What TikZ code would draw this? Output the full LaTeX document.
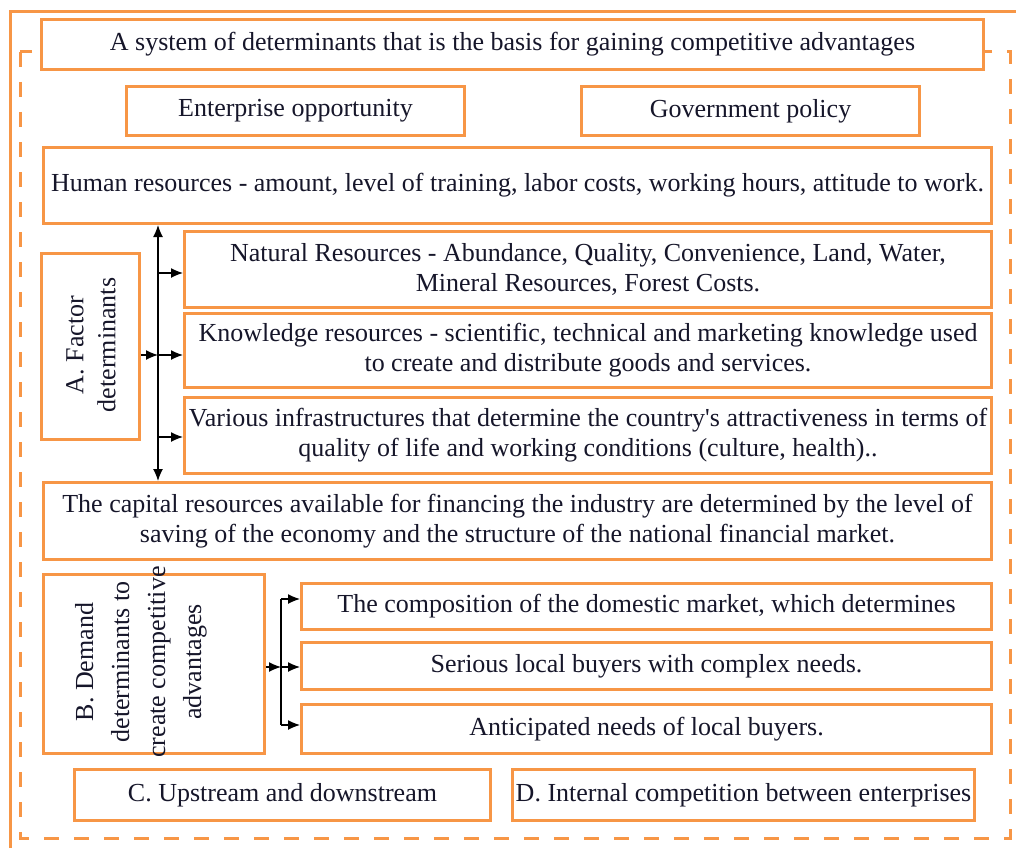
\documentclass[tikz,border=0pt]{standalone}
\usepackage{fontspec}
\setmainfont{Liberation Serif}
\usetikzlibrary{arrows.meta}
\definecolor{org}{RGB}{247,150,70}
\definecolor{txt}{RGB}{22,22,42}
\begin{document}
\begin{tikzpicture}[x=1pt,y=-1pt,
  box/.style={draw=org, line width=3pt, fill=white, inner sep=0pt, text=txt,
    font=\fontsize{26}{30}\selectfont, align=center, anchor=north west,
    execute at begin node={\vspace*{6pt}}},
  vtext/.style={text=txt, align=center, rotate=90, inner sep=0pt},
  arr/.style={-{Latex[length=12pt,width=10pt]}, line width=1.3pt, draw=black},
  darr/.style={{Latex[length=12pt,width=10pt]}-{Latex[length=12pt,width=10pt]}, line width=1.3pt, draw=black},
  plain/.style={line width=1.3pt, draw=black}]
\useasboundingbox (0,0) rectangle (1016,848);
% frames
\draw[org, line width=3pt] (10,848) -- (10,12) -- (1016,12);
\draw[org, line width=3pt, dash pattern=on 15pt off 15pt] (20,52) rectangle (1010,838);
% boxes
\node[box, minimum width=942pt, minimum height=50pt] (title) at (40,18) {A system of determinants that is the basis for gaining competitive advantages};
\node[box, minimum width=338pt, minimum height=49pt] (enter) at (125,85) {Enterprise opportunity};
\node[box, minimum width=338pt, minimum height=49pt] (gov) at (580,85) {Government policy};
\node[box, minimum width=948pt, minimum height=76pt] (human) at (42,146) {Human resources - amount, level of training, labor costs, working hours, attitude to work.};
\node[box, minimum width=98pt, minimum height=186pt] (afac) at (40,252) {};
\node[vtext, font=\fontsize{26}{32}\selectfont] (afactxt) at (91,345) {A. Factor\\determinants};
\node[box, minimum width=807pt, minimum height=76pt] (natural) at (183,230) {Natural Resources - Abundance, Quality, Convenience, Land, Water,\\Mineral Resources, Forest Costs.};
\node[box, minimum width=807pt, minimum height=74pt] (know) at (183,312) {Knowledge resources - scientific, technical and marketing knowledge used\\to create and distribute goods and services.};
\node[box, minimum width=807pt, minimum height=76pt] (infra) at (183,396) {Various infrastructures that determine the country\textquotesingle s attractiveness in terms of\\quality of life and working conditions (culture, health)..};
\node[box, minimum width=948pt, minimum height=77pt] (capital) at (42,481) {The capital resources available for financing the industry are determined by the level of\\saving of the economy and the structure of the national financial market.};
\node[box, minimum width=221pt, minimum height=179pt] (bdem) at (42,573) {};
\node[vtext, font=\fontsize{26}{36}\selectfont] (bdemtxt) at (141,662) {B. Demand\\determinants to\\create competitive\\advantages};
\node[box, minimum width=690pt, minimum height=46pt] (comp) at (300,582) {The composition of the domestic market, which determines};
\node[box, minimum width=690pt, minimum height=47pt] (serious) at (300,641) {Serious local buyers with complex needs.};
\node[box, minimum width=690pt, minimum height=49pt] (antic) at (300,703) {Anticipated needs of local buyers.};
\node[box, minimum width=416pt, minimum height=51pt] (cbox) at (73,768) {C. Upstream and downstream};
\node[box, minimum width=462pt, minimum height=51pt] (dbox) at (511,768) {D. Internal competition between enterprises};
% connectors A
\coordinate (vA) at (158,355);
\coordinate (vA1) at (158,273);
\coordinate (vA3) at (158,437);
\draw[darr] (human.south -| vA) -- (capital.north -| vA);
\draw[arr] (afac.east |- vA) -- (vA);
\draw[arr] (vA1) -- (natural.west |- vA1);
\draw[arr] (vA) -- (know.west |- vA);
\draw[arr] (vA3) -- (infra.west |- vA3);
% connectors B
\coordinate (vB) at (281,667);
\coordinate (vB1) at (281,599);
\coordinate (vB3) at (281,725);
\draw[plain] (vB1) -- (vB3);
\draw[arr] (bdem.east |- vB) -- (vB);
\draw[arr] (vB1) -- (comp.west |- vB1);
\draw[arr] (vB) -- (serious.west |- vB);
\draw[arr] (vB3) -- (antic.west |- vB3);
\end{tikzpicture}
\end{document}
